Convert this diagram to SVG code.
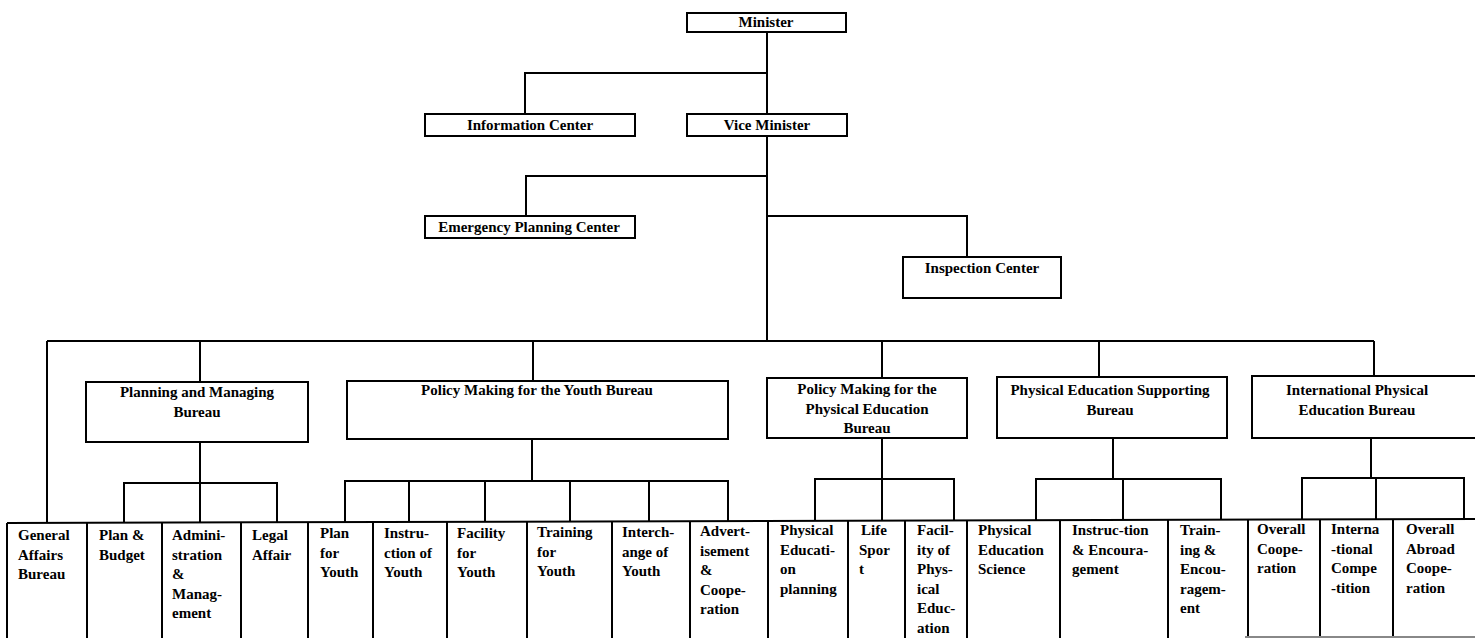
<svg xmlns="http://www.w3.org/2000/svg" width="1475" height="638" viewBox="0 0 1475 638">
<style>
.box{fill:#fff;stroke:#000;stroke-width:2}
.ln{fill:none;stroke:#000;stroke-width:2}
text{font-family:"Liberation Serif","Times New Roman",serif;font-weight:bold;font-size:15px;fill:#000}
.c{text-anchor:middle}
</style>
<rect width="1475" height="638" fill="#fff"/>
<g id="connectors" class="ln">
<path d="M767 32V340M767 73H525V114M767 176H526V216M767 216H967V257"/>
<path d="M47 341H1374M47 341V523M200 341V382M533 341V381M882 341V378M1099 341V377M1374 341V376"/>
<path d="M200 442V483M124 523V483H277V523M200 483V523"/>
<path d="M532 439V481M345 522V481H728V522M409 481V522M485 481V522M570 481V522M649 481V522"/>
<path d="M882 438V479M815 521V479H954V521M882 479V521"/>
<path d="M1113 438V479M1036 520V479H1221V520M1123 479V520"/>
<path d="M1371 438V478M1302 519V478H1464V519M1376 478V519"/>
</g>
<g id="minister"><rect class="box" x="687" y="13" width="159" height="19"/><text class="c" x="766" y="27">Minister</text></g>
<g id="information-center"><rect class="box" x="425" y="114" width="210" height="22"/><text class="c" x="530" y="130">Information Center</text></g>
<g id="vice-minister"><rect class="box" x="687" y="114" width="160" height="22"/><text class="c" x="767" y="130">Vice Minister</text></g>
<g id="emergency-planning-center"><rect class="box" x="425" y="216" width="210" height="22"/><text class="c" x="529" y="232">Emergency Planning Center</text></g>
<g id="inspection-center"><rect class="box" x="903" y="257" width="158" height="41"/><text class="c" x="982" y="273">Inspection Center</text></g>
<g id="planning-bureau"><rect class="box" x="86" y="382" width="222" height="60"/><text class="c" x="197" y="397">Planning and Managing<tspan x="197" y="417">Bureau</tspan></text></g>
<g id="youth-bureau"><rect class="box" x="347" y="381" width="381" height="58"/><text class="c" x="537" y="395">Policy Making for the Youth Bureau</text></g>
<g id="pe-policy-bureau"><rect class="box" x="767" y="378" width="200" height="60"/><text class="c" x="867" y="394">Policy Making for the<tspan x="867" y="414">Physical Education</tspan><tspan x="867" y="433">Bureau</tspan></text></g>
<g id="pe-supporting-bureau"><rect class="box" x="997" y="377" width="230" height="61"/><text class="c" x="1110" y="395">Physical Education Supporting<tspan x="1110" y="415">Bureau</tspan></text></g>
<g id="intl-pe-bureau"><rect class="box" x="1252" y="376" width="240" height="62"/><text class="c" x="1357" y="395">International Physical<tspan x="1357" y="415">Education Bureau</tspan></text></g>
<g id="row" class="ln">
<path d="M7 523L1475 519"/>
<path d="M7 523V638M87 523V638M162 523V638M241 523V638M308 522V638M373 522V638M447 522V638M527 522V638M612 521V638M690 521V638M768 521V638M848 521V638M905 521V638M967 520V638M1060 520V638M1168 520V638M1248 519V638M1320 519V638M1393 519V638"/>
<path d="M1245 637H1475" stroke="#888"/>
</g>
<g id="general-affairs"><text x="18" y="540">General<tspan x="18" y="559.5">Affairs</tspan><tspan x="18" y="579">Bureau</tspan></text></g>
<g id="plan-budget"><text x="99" y="540">Plan &amp;<tspan x="99" y="559.5">Budget</tspan></text></g>
<g id="administration"><text x="172" y="540">Admini-<tspan x="172" y="559.5">stration</tspan><tspan x="172" y="579">&amp;</tspan><tspan x="172" y="598.5">Manag-</tspan><tspan x="172" y="618">ement</tspan></text></g>
<g id="legal-affair"><text x="252" y="540">Legal<tspan x="252" y="559.5">Affair</tspan></text></g>
<g id="plan-youth"><text x="320" y="538">Plan<tspan x="320" y="557.5">for</tspan><tspan x="320" y="577">Youth</tspan></text></g>
<g id="instruction-youth"><text x="384" y="538">Instru-<tspan x="384" y="557.5">ction of</tspan><tspan x="384" y="577">Youth</tspan></text></g>
<g id="facility-youth"><text x="457" y="538">Facility<tspan x="457" y="557.5">for</tspan><tspan x="457" y="577">Youth</tspan></text></g>
<g id="training-youth"><text x="537" y="537">Training<tspan x="537" y="556.5">for</tspan><tspan x="537" y="576">Youth</tspan></text></g>
<g id="interchange-youth"><text x="622" y="537">Interch-<tspan x="622" y="556.5">ange of</tspan><tspan x="622" y="576">Youth</tspan></text></g>
<g id="advertisement"><text x="700" y="536">Advert-<tspan x="700" y="555.5">isement</tspan><tspan x="700" y="575">&amp;</tspan><tspan x="700" y="594.5">Coope-</tspan><tspan x="700" y="614">ration</tspan></text></g>
<g id="pe-planning"><text x="780" y="535">Physical<tspan x="780" y="554.5">Educati-</tspan><tspan x="780" y="574">on</tspan><tspan x="780" y="593.5">planning</tspan></text></g>
<g id="life-sport"><text x="861" y="535">Life<tspan x="859" y="554.5">Spor</tspan><tspan x="859" y="574">t</tspan></text></g>
<g id="pe-facility"><text x="917" y="535">Facil-<tspan x="917" y="554.5">ity of</tspan><tspan x="917" y="574">Phys-</tspan><tspan x="917" y="593.5">ical</tspan><tspan x="917" y="613">Educ-</tspan><tspan x="917" y="632.5">ation</tspan></text></g>
<g id="pe-science"><text x="978" y="535">Physical<tspan x="978" y="554.5">Education</tspan><tspan x="978" y="574">Science</tspan></text></g>
<g id="instruction-encouragement"><text x="1072" y="535">Instruc-tion<tspan x="1072" y="554.5">&amp; Encoura-</tspan><tspan x="1072" y="574">gement</tspan></text></g>
<g id="training-encouragement"><text x="1180" y="535">Train-<tspan x="1180" y="554.5">ing &amp;</tspan><tspan x="1180" y="574">Encou-</tspan><tspan x="1180" y="593.5">ragem-</tspan><tspan x="1180" y="613">ent</tspan></text></g>
<g id="overall-cooperation"><text x="1257" y="534">Overall<tspan x="1257" y="553.5">Coope-</tspan><tspan x="1257" y="573">ration</tspan></text></g>
<g id="international-competition"><text x="1331" y="534">Interna<tspan x="1331" y="553.5">-tional</tspan><tspan x="1331" y="573">Compe</tspan><tspan x="1331" y="592.5">-tition</tspan></text></g>
<g id="overall-abroad-cooperation"><text x="1406" y="534">Overall<tspan x="1406" y="553.5">Abroad</tspan><tspan x="1406" y="573">Coope-</tspan><tspan x="1406" y="592.5">ration</tspan></text></g>
</svg>
